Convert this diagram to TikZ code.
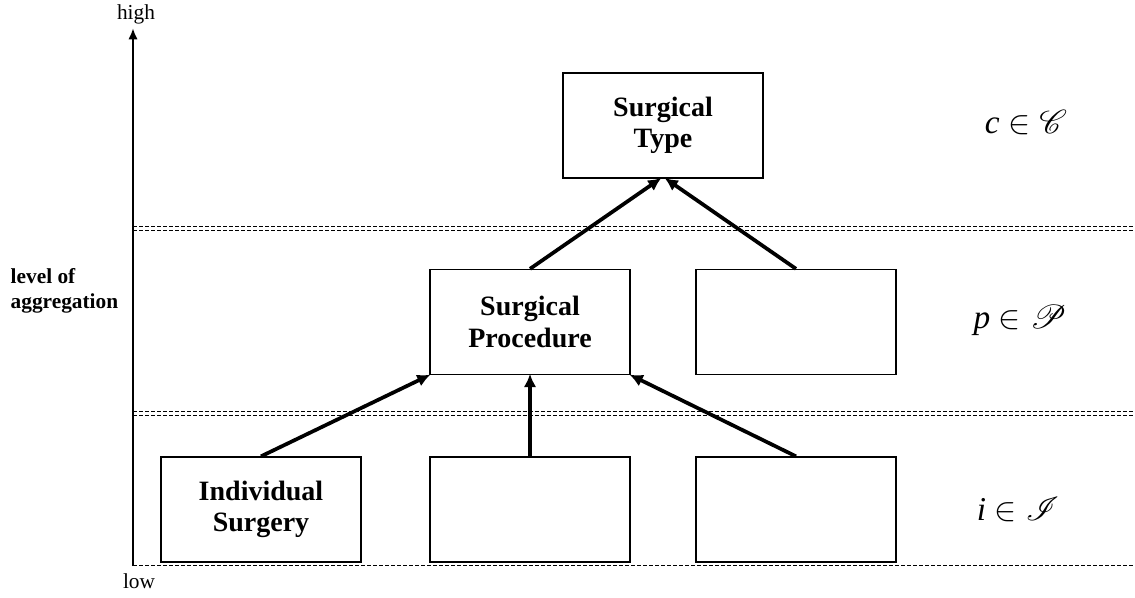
\documentclass[tikz,border=0pt]{standalone}
\usepackage{fontspec}
\setmainfont{Liberation Serif}
\usepackage{mathrsfs}
\usetikzlibrary{arrows.meta}
\begin{document}
\begin{tikzpicture}[x=0.75pt,y=-0.75pt,
  box/.style={draw,line width=1pt,minimum width=150pt,minimum height=78.75pt,inner sep=0pt,align=center,font=\fontsize{21}{23.5}\selectfont\bfseries},
  arr/.style={line width=2.8pt,-{Latex[length=10pt,width=9.5pt]},shorten >=-1pt},
  lvl/.style={dashed,dash pattern=on 3pt off 1.5pt,line width=0.6pt},
  mlab/.style={font=\fontsize{25}{29}\selectfont,anchor=center},
  plain/.style={font=\fontsize{16}{19}\selectfont}]
\useasboundingbox (0,0) rectangle (1135,597);
% level lines
\draw[lvl] (133,226) -- (1135,226);
\draw[lvl] (133,230) -- (1135,230);
\draw[lvl] (133,411) -- (1135,411);
\draw[lvl] (133,415) -- (1135,415);
\draw[lvl] (133,565) -- (1135,565);
% axis
\coordinate (axlow) at (133,566);
\coordinate (axhigh) at (133,28);
\draw[line width=1.9pt,-{Latex[length=8.5pt,width=7pt]}] (axlow) -- (axhigh);
\node[plain] (high) at (136,14) {high};
\node[plain] (low) at (139,581) {low};
\node[plain,font=\fontsize{16}{19}\selectfont\bfseries,align=left,anchor=west] (lvlab) at (6,291) {level of\\aggregation};
% boxes
\node[box] (st) at (663,125.5) {Surgical\\Type};
\node[box] (sp) at (530,322) {Surgical\\Procedure};
\node[box] (pr) at (796,322) {};
\node[box] (b1) at (261,509.5) {Individual\\Surgery};
\node[box] (b2) at (530,509.5) {};
\node[box] (b3) at (796,509.5) {};
% arrows
\draw[arr] (b1.north) -- (sp.south west);
\draw[arr] (b2.north) -- (sp.south);
\draw[arr] (b3.north) -- (sp.south east);
\draw[arr] (sp.north) -- ([xshift=-2pt]st.south);
\draw[arr] (pr.north) -- ([xshift=2pt]st.south);
% math labels
\node[mlab] (lc) at (1026,123) {\textit{c} $\in \mathscr{C}$};
\node[mlab] (lp) at (1020,320) {\textit{p} $\in \mathscr{P}$};
\node[mlab] (li) at (1018,510) {\textit{i} $\in \mathscr{I}$};
\end{tikzpicture}
\end{document}
